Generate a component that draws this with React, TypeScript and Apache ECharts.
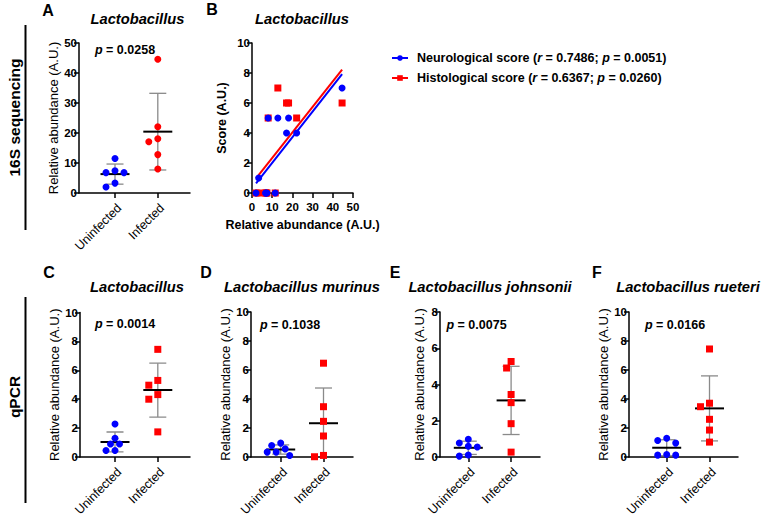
import React, { useEffect, useRef } from 'react';
import * as echarts from 'echarts';

// ---------- data ----------
const groupNames = ['Uninfected', 'Infected'];

// 16S sequencing (A) — relative abundance per mouse
const abund16SUninfected = [11.5, 6.8, 7.4, 6.8, 3.3, 2.0];
const abund16SInfected = [44.6, 22.1, 17.1, 18.1, 12.8, 8.0];
// scores for the same mice (B)
const neuroUninfected = [0, 0, 0, 0, 1, 0];
const neuroInfected = [7, 4, 4, 5, 5, 5];
const histoUninfected = [0, 0, 0, 0, 0, 0];
const histoInfected = [6, 5, 6, 6, 7, 5];

// qPCR (C–F)
const lacUninfected = [2.28, 1.3, 0.9, 0.9, 0.45, 0.45];
const lacInfected = [7.45, 5.3, 4.97, 4.32, 4.0, 1.74];
const murUninfected = [0.96, 0.8, 0.56, 0.34, 0.34, 0.11];
const murInfected = [6.47, 3.47, 2.46, 1.45, 0.02, 0.11];
const johUninfected = [0.98, 0.77, 0.59, 0.55, 0.05, 0.11];
const johInfected = [5.27, 4.91, 3.45, 3.0, 1.84, 0.27];
const reuUninfected = [1.14, 1.3, 0.96, 0.13, 0.18, 0.13];
const reuInfected = [7.45, 3.71, 3.47, 2.6, 1.86, 1.03];

const pValues = ['0.0258', '0.0014', '0.1038', '0.0075', '0.0166'];
const panelTitles = ['Lactobacillus', 'Lactobacillus', 'Lactobacillus', 'Lactobacillus murinus', 'Lactobacillus johnsonii', 'Lactobacillus rueteri'];
const panelLetters = ['A', 'B', 'C', 'D', 'E', 'F'];
const corrNames = ['Neurological score', 'Histological score'];
const corrR = ['0.7486', '0.6367'];
const corrP = ['0.0051', '0.0260'];
const yMaxDot = [50, 10, 10, 8, 10];
const yStepDot = [10, 2, 2, 2, 2];
const scoreMax = 10, scoreStep = 2, abundMax = 50, abundStep = 10;

// ---------- helpers ----------
const FONT = '"Liberation Sans", Arial, Helvetica, sans-serif';
const BLUE = '#0000ff';
const RED = '#ff0000';

const mean = (a: number[]) => a.reduce((s, v) => s + v, 0) / a.length;
const sd = (a: number[]) => {
  const m = mean(a);
  return Math.sqrt(a.reduce((s, v) => s + (v - m) * (v - m), 0) / (a.length - 1));
};
function regress(x: number[], y: number[]) {
  const mx = mean(x), my = mean(y);
  let sxy = 0, sxx = 0;
  x.forEach((xv, i) => { sxy += (xv - mx) * (y[i] - my); sxx += (xv - mx) * (xv - mx); });
  const b = sxy / sxx;
  return { a: my - b * mx, b };
}
// simple beeswarm: pixel offsets so markers do not overlap
function swarm(values: number[], pxPerY: number, step = 4.5, diam = 6.8) {
  const order = values.map((_, i) => i).sort((p, q) => values[q] - values[p]);
  const placed: { x: number; y: number }[] = [];
  const off = values.map(() => 0);
  const cands = [0, -1, 1, -2, 2, -3, 3, -4, 4].map((k) => k * step);
  for (const i of order) {
    const y = values[i] * pxPerY;
    for (const c of cands) {
      if (placed.every((p) => Math.hypot(p.x - c, p.y - y) >= diam)) {
        off[i] = c; placed.push({ x: c, y }); break;
      }
    }
  }
  return off;
}

export default function App() {
  const ref = useRef<HTMLDivElement>(null);
  useEffect(() => {
    document.body.style.margin = '0';
    const chart = echarts.init(ref.current!, null, { renderer: 'svg' });

    // layout of the five dot panels (A, C, D, E, F)
    const dotLayout = [
      { grid: { left: 79, top: 43, width: 111, height: 150 }, cat1: 115, nameGap: 17, infSym: 'circle' },
      { grid: { left: 80, top: 312.5, width: 110, height: 149 }, cat1: 115, nameGap: 18, infSym: 'rect' },
      { grid: { left: 251, top: 312, width: 102, height: 149 }, cat1: 280.7, nameGap: 18, infSym: 'rect' },
      { grid: { left: 440, top: 312, width: 100, height: 149 }, cat1: 468.3, nameGap: 14, infSym: 'rect' },
      { grid: { left: 629, top: 312, width: 109, height: 149 }, cat1: 666.7, nameGap: 18, infSym: 'rect' },
    ];
    const catSpacing = 42.8; // px between the two groups
    const dotData = [
      [abund16SUninfected, abund16SInfected],
      [lacUninfected, lacInfected],
      [murUninfected, murInfected],
      [johUninfected, johInfected],
      [reuUninfected, reuInfected],
    ];
    const gridB = { left: 252, top: 43, width: 101, height: 150 };

    const axisLine = { show: true, onZero: false, lineStyle: { color: '#000', width: 1.5 } };
    const axisTick = { show: true, length: 5, lineStyle: { color: '#000', width: 1.5 } };
    const tickLabel = { fontFamily: FONT, fontSize: 11.5, fontWeight: 'bold', color: '#000' };

    const grids: any[] = [];
    const xAxes: any[] = [];
    const yAxes: any[] = [];
    const series: any[] = [];

    // grid order: 0 A, 1 B, 2 C, 3 D, 4 E, 5 F
    const gridOrder = [0, 2, 3, 4, 5];
    const allGrids: any[] = [];
    allGrids[1] = gridB;
    dotLayout.forEach((l, k) => { allGrids[gridOrder[k]] = l.grid; });
    allGrids.forEach((g) => grids.push({ ...g, containLabel: false }));

    // dot panels
    dotLayout.forEach((l, k) => {
      const gi = gridOrder[k];
      const pxPerX = catSpacing; // one x unit = distance between groups
      const xMin = 1 - (l.cat1 - l.grid.left) / pxPerX;
      const xMax = xMin + l.grid.width / pxPerX;
      const lblShift = 4.4 / pxPerX;
      xAxes[gi] = {
        type: 'value', gridIndex: gi, min: xMin, max: xMax,
        axisLine, splitLine: { show: false },
        axisTick: { ...axisTick, customValues: [1, 2] },
        axisLabel: {
          customValues: [1 + lblShift, 2 + lblShift],
          formatter: (v: number) => groupNames[Math.round(v) - 1] ?? '',
          rotate: 45, margin: 13, fontFamily: FONT, fontSize: 12.5, color: '#000',
        },
      };
      yAxes[gi] = {
        type: 'value', gridIndex: gi, min: 0, max: yMaxDot[k], interval: yStepDot[k],
        name: 'Relative abundance (A.U.)', nameLocation: 'middle', nameGap: l.nameGap,
        nameTextStyle: { fontFamily: FONT, fontSize: 13, color: '#000' },
        axisLine, axisTick, splitLine: { show: false },
        axisLabel: { ...tickLabel, margin: 2 },
      };
      const pxPerY = l.grid.height / yMaxDot[k];
      const [u, inf] = dotData[k];
      const errData = [u, inf].map((vals, j) => {
        const m = mean(vals), s = sd(vals);
        return [j + 1, m, m - s, m + s];
      });
      series.push({
        type: 'custom', xAxisIndex: gi, yAxisIndex: gi, clip: true, silent: true, z: 2,
        data: errData, encode: { x: 0, y: [1, 2, 3] },
        renderItem: (_p: any, api: any) => {
          const x = api.value(0);
          const pm = api.coord([x, api.value(1)]);
          const pl = api.coord([x, api.value(2)]);
          const ph = api.coord([x, api.value(3)]);
          const sdStyle = { stroke: '#8a8a8a', lineWidth: 1.3 };
          return {
            type: 'group',
            children: [
              { type: 'line', shape: { x1: pl[0], y1: pl[1], x2: ph[0], y2: ph[1] }, style: sdStyle },
              { type: 'line', shape: { x1: ph[0] - 8.5, y1: ph[1], x2: ph[0] + 8.5, y2: ph[1] }, style: sdStyle },
              { type: 'line', shape: { x1: pl[0] - 8.5, y1: pl[1], x2: pl[0] + 8.5, y2: pl[1] }, style: sdStyle },
              { type: 'line', shape: { x1: pm[0] - 14.5, y1: pm[1], x2: pm[0] + 14.5, y2: pm[1] }, style: { stroke: '#000', lineWidth: 2 } },
            ],
          };
        },
      });
      [u, inf].forEach((vals, j) => {
        const off = swarm(vals, pxPerY);
        series.push({
          type: 'scatter', xAxisIndex: gi, yAxisIndex: gi, z: 3, silent: true,
          symbol: j === 0 ? 'circle' : l.infSym, symbolSize: 7,
          itemStyle: { color: j === 0 ? BLUE : RED, opacity: 1 },
          data: vals.map((v, i) => [j + 1 + off[i] / pxPerX, v]),
        });
      });
    });

    // panel B: correlation
    xAxes[1] = {
      type: 'value', gridIndex: 1, min: 0, max: abundMax, interval: abundStep,
      name: 'Relative abundance (A.U.)', nameLocation: 'middle', nameGap: 25,
      nameTextStyle: { fontFamily: FONT, fontSize: 12.5, fontWeight: 'bold', color: '#000' },
      axisLine, axisTick, splitLine: { show: false }, axisLabel: { ...tickLabel, margin: 8 },
    };
    yAxes[1] = {
      type: 'value', gridIndex: 1, min: 0, max: scoreMax, interval: scoreStep,
      name: 'Score (A.U.)', nameLocation: 'middle', nameGap: 24,
      nameTextStyle: { fontFamily: FONT, fontSize: 12.5, fontWeight: 'bold', color: '#000' },
      axisLine, axisTick, splitLine: { show: false }, axisLabel: { ...tickLabel, margin: 2 },
    };
    const xAll = [...abund16SUninfected, ...abund16SInfected];
    const neuroAll = [...neuroUninfected, ...neuroInfected];
    const histoAll = [...histoUninfected, ...histoInfected];
    const xLo = Math.min(...xAll), xHi = Math.max(...xAll);
    const fits = [regress(xAll, neuroAll), regress(xAll, histoAll)];
    const colors = [BLUE, RED];
    const syms = ['circle', 'rect'];
    // regression lines (listed first so legend shows line icon)
    fits.forEach((f, k) => {
      series.push({
        type: 'line', name: corrNames[k], xAxisIndex: 1, yAxisIndex: 1, silent: true,
        symbol: syms[k], symbolSize: 6, showSymbol: false, z: 2,
        lineStyle: { color: colors[k], width: 2 }, itemStyle: { color: colors[k] },
        data: [[xLo, f.a + f.b * xLo], [xHi, f.a + f.b * xHi]],
      });
    });
    // points: histological (red) below neurological (blue)
    [1, 0].forEach((k) => {
      const ys = k === 0 ? neuroAll : histoAll;
      series.push({
        type: 'scatter', name: corrNames[k], xAxisIndex: 1, yAxisIndex: 1, silent: true,
        symbol: syms[k], symbolSize: 7, z: 3 + (k === 0 ? 1 : 0), clip: false,
        itemStyle: { color: colors[k], opacity: 1 },
        data: xAll.map((x, i) => [x, ys[i]]),
      });
    });

    const legendRich = {
      b: { fontFamily: FONT, fontSize: 12.5, fontWeight: 'bold', color: '#000' },
      i: { fontFamily: FONT, fontSize: 12.5, fontWeight: 'bold', fontStyle: 'italic', color: '#000' },
    };

    // texts
    const graphic: any[] = [];
    const letterPos = [[48, 10], [212, 9.5], [49, 272], [206, 272], [395, 272], [597, 272]];
    const titlePos = [[137.5, 18.5], [302, 18.5], [137, 286.5], [302, 286.5], [490, 286.5], [688, 286.5]];
    panelLetters.forEach((t, i) => graphic.push({
      type: 'text', x: letterPos[i][0], y: letterPos[i][1],
      style: { text: t, font: `bold 16px ${FONT}`, fill: '#000', align: 'center', verticalAlign: 'middle' },
    }));
    panelTitles.forEach((t, i) => graphic.push({
      type: 'text', x: titlePos[i][0], y: titlePos[i][1],
      style: { text: t, font: `italic bold 14.7px ${FONT}`, fill: '#000', align: 'center', verticalAlign: 'middle' },
    }));
    const pPos = [[95, 49.5], [95, 324], [260, 324.5], [446.5, 324.5], [645, 325]];
    pValues.forEach((p, i) => graphic.push({
      type: 'text', x: pPos[i][0], y: pPos[i][1],
      style: {
        text: `{i|p}{b| = ${p}}`, align: 'left', verticalAlign: 'middle',
        rich: legendRich,
      },
    }));
    graphic.push(
      { type: 'text', x: 14, y: 117.5, rotation: Math.PI / 2,
        style: { text: '16S sequencing', font: `bold 15.5px ${FONT}`, fill: '#000', align: 'center', verticalAlign: 'middle' } },
      { type: 'text', x: 14, y: 397, rotation: Math.PI / 2,
        style: { text: 'qPCR', font: `bold 15.5px ${FONT}`, fill: '#000', align: 'center', verticalAlign: 'middle' } },
      { type: 'line', shape: { x1: 25.5, y1: 25, x2: 25.5, y2: 230 }, style: { stroke: '#000', lineWidth: 2 } },
      { type: 'line', shape: { x1: 25.5, y1: 297, x2: 25.5, y2: 503 }, style: { stroke: '#000', lineWidth: 2 } },
    );

    chart.setOption({
      animation: false,
      backgroundColor: '#fff',
      grid: grids,
      xAxis: xAxes,
      yAxis: yAxes,
      series,
      legend: {
        data: corrNames, orient: 'vertical', left: 386, top: 46, itemWidth: 16, itemHeight: 7, itemGap: 6,
        selectedMode: false,
        formatter: (name: string) => {
          const k = corrNames.indexOf(name);
          return `{b|${name} (}{i|r}{b| = ${corrR[k]}; }{i|p}{b| = ${corrP[k]})}`;
        },
        textStyle: { rich: legendRich, padding: [0, 0, 0, 4], lineHeight: 14 },
      },
      graphic,
    });
    return () => chart.dispose();
  }, []);
  return <div ref={ref} style={{ width: 762, height: 519 }} />;
}
